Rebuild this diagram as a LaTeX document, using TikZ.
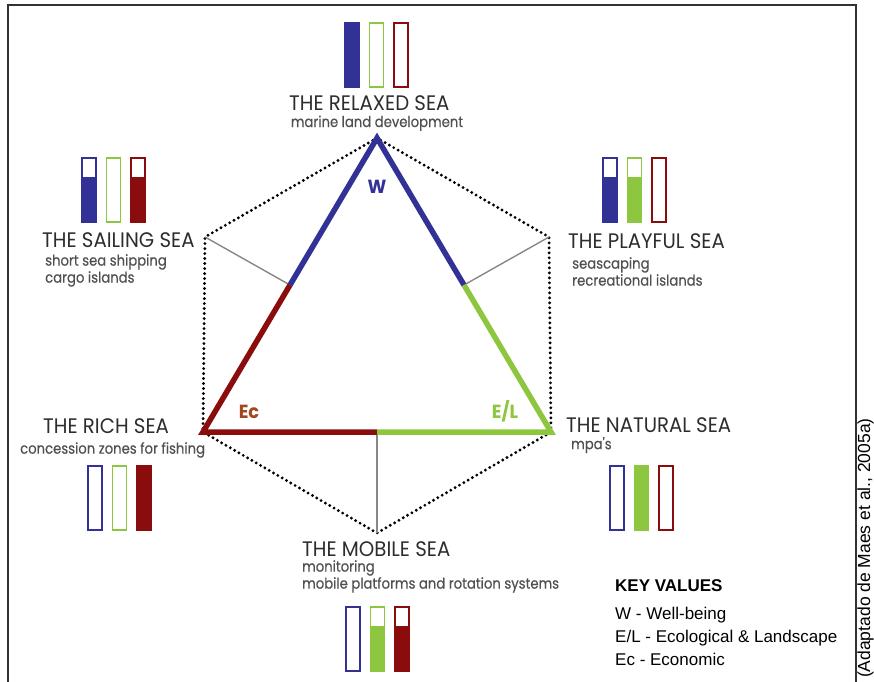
\documentclass[tikz,border=0pt]{standalone}
\usepackage{fontspec}
\setmainfont{Liberation Sans}
\newfontfamily\seafont[FakeStretch=0.94]{Poppins}
\newfontfamily\seausefont[FakeStretch=0.88, FakeBold=0.4]{Poppins}
\usetikzlibrary{positioning,calc}

\definecolor{wblue}{RGB}{50,50,150}
\definecolor{lgreen}{RGB}{141,198,63}
\definecolor{ecred}{RGB}{139,12,12}
\definecolor{ectext}{RGB}{160,72,30}
\definecolor{titlegray}{RGB}{45,45,45}
\definecolor{subgray}{RGB}{80,80,80}
\definecolor{linkgray}{RGB}{135,135,135}
\definecolor{framegray}{RGB}{50,50,50}

% three value bars: x, top, W, E/L, Ec level
\newcommand{\barset}[5]{%
  \foreach \col/\lev [count=\i from 0] in {wblue/#3, lgreen/#4, ecred/#5}{
    \fill[\col] ({#1+24.5*\i},{#2+64*(1-\lev)}) rectangle ++(14,{64*\lev});
    \draw[\col, line width=1.3pt] ({#1+24.5*\i},#2) rectangle ++(14,64);
  }}

\begin{document}
\begin{tikzpicture}[x=1pt, y=-1pt,
  sea/.style={font=\seafont\fontsize{21}{23}\selectfont, text=titlegray, inner sep=0pt, anchor=base west},
  aim/.style={font=\seausefont\fontsize{15}{17}\selectfont, text=subgray, inner sep=0pt, align=left, anchor=north west},
  keytext/.style={font=\fontsize{17}{23}\selectfont, inner sep=0pt, align=left},
  side/.style={line width=5.5pt},
  hex/.style={line width=3.2pt, dash pattern=on 0pt off 5pt, line cap=round},
  link/.style={draw=linkgray, line width=1.4pt},
  vlabel/.style={font=\seafont\bfseries\fontsize{19}{19}\selectfont, inner sep=0pt}
]
  \useasboundingbox (0,0) rectangle (874,681);
  \draw[framegray, line width=2pt] (8,700) -- (8,5) -- (856,5) -- (856,700);

  % corners of the triangle and of the hexagon
  \coordinate (W) at (377,138);
  \coordinate (Ec) at (203,432);
  \coordinate (EL) at (551,432);
  \coordinate (mL) at ($(W)!0.5!(Ec)$);
  \coordinate (mR) at ($(W)!0.5!(EL)$);
  \coordinate (mB) at ($(Ec)!0.5!(EL)$);
  \coordinate (hL) at (205,237);
  \coordinate (hR) at (549,237);
  \coordinate (hB) at (377,533);

  \draw[hex] (W) -- (hL) -- (Ec) -- (hB) -- (EL) -- (hR) -- cycle;
  \draw[link] (hL) -- (mL);
  \draw[link] (hR) -- (mR);
  \draw[link] (mB) -- (hB);

  \draw[side, wblue] (mL) -- (W) -- (mR);
  \draw[side, ecred] (mL) -- (Ec) -- (mB);
  \draw[side, lgreen] (mR) -- (EL) -- (mB);

  \node[vlabel, text=wblue] (wtag) at (377,187) {W};
  \node[vlabel, text=ectext] (ectag) at (249,412) {Ec};
  \node[vlabel, text=lgreen] (eltag) at (505,411) {E/L};

  % the six seas
  \node[sea] (relaxed) at (289,110) {THE RELAXED SEA};
  \node[aim, anchor=base] (relaxeduse) at (377,127) {marine land development};
  \node[sea] (sailing) at (42,247) {THE SAILING SEA};
  \node[aim] (sailinguse) at (45,254) {short sea shipping\\cargo islands};
  \node[sea] (playful) at (568,248) {THE PLAYFUL SEA};
  \node[aim] (playfuluse) at (572,257) {seascaping\\recreational islands};
  \node[sea] (rich) at (43,433) {THE RICH SEA};
  \node[aim] (richuse) at (20,442) {concession zones for fishing};
  \node[sea] (natural) at (566,432) {THE NATURAL SEA};
  \node[aim] (naturaluse) at (571,437) {mpa's};
  \node[sea] (mobile) at (302,556) {THE MOBILE SEA};
  \node[aim] (mobileuse) at (302,560) {monitoring\\mobile platforms and rotation systems};

  \barset{345}{23}{1}{0}{0}
  \barset{82}{158}{0.7}{0}{0.7}
  \barset{603}{158}{0.7}{0.7}{0}
  \barset{88}{466}{0}{0}{1}
  \barset{610}{466}{0}{1}{0}
  \barset{346}{607}{0}{0.7}{0.7}

  % key
  \node[keytext, anchor=base west, font=\bfseries\fontsize{17}{20}\selectfont] (keyhead) at (615,591) {KEY VALUES};
  \node[keytext, anchor=north west] (keylist) at (615,607) {W - Well-being\\E/L - Ecological \& Landscape\\Ec - Economic};
  \node[keytext, rotate=90, anchor=base east, font=\fontsize{17.5}{20}\selectfont] (source) at (870,418) {(Adaptado de Maes et al., 2005a)};
\end{tikzpicture}
\end{document}
